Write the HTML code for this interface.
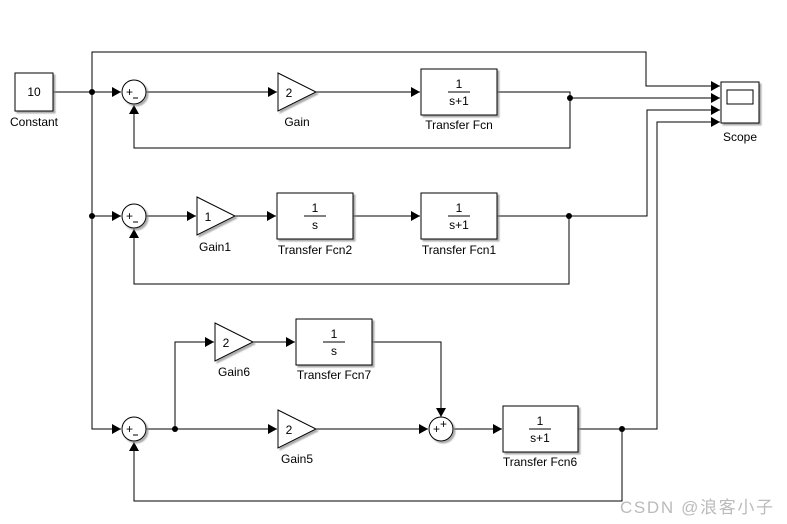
<!DOCTYPE html>
<html><head><style>body{margin:0;background:#fff}svg{display:block}text{font-family:"Liberation Sans",sans-serif;font-size:12px;fill:#000}</style></head><body>
<svg width="787" height="524" viewBox="0 0 787 524">
<defs>
<marker id="a" markerWidth="10" markerHeight="10" refX="9" refY="5" orient="auto" markerUnits="userSpaceOnUse"><path d="M0,0 L9,5 L0,10 Z" fill="#000"/></marker>
<filter id="s" x="-20%" y="-20%" width="150%" height="150%"><feDropShadow dx="2" dy="2" stdDeviation="0.8" flood-color="#888" flood-opacity="0.7"/></filter>
</defs>
<g fill="none" stroke="#000" stroke-width="1">
<path d="M53,92 H121" marker-end="url(#a)"/>
<path d="M92,92 V52 H646 V86 H720" marker-end="url(#a)"/>
<path d="M146,92 H277" marker-end="url(#a)"/>
<path d="M316,92 H420" marker-end="url(#a)"/>
<path d="M497,92 H570 V98 H720" marker-end="url(#a)"/>
<path d="M570,98 V148 H134 V105" marker-end="url(#a)"/>
<path d="M92,92 V429 H121" marker-end="url(#a)"/>
<path d="M92,216 H121" marker-end="url(#a)"/>
<path d="M146,216 H196" marker-end="url(#a)"/>
<path d="M235,216 H276" marker-end="url(#a)"/>
<path d="M353,216 H420" marker-end="url(#a)"/>
<path d="M497,216 H647 V110 H720" marker-end="url(#a)"/>
<path d="M569,216 V284 H134 V229" marker-end="url(#a)"/>
<path d="M146,429 H277" marker-end="url(#a)"/>
<path d="M175,429 V342 H214" marker-end="url(#a)"/>
<path d="M253,342 H295" marker-end="url(#a)"/>
<path d="M372,342 H441 V417" marker-end="url(#a)"/>
<path d="M316,429 H428" marker-end="url(#a)"/>
<path d="M454,429 H502" marker-end="url(#a)"/>
<path d="M578,429 H657 V122 H720" marker-end="url(#a)"/>
<path d="M622,429 V501 H134 V442" marker-end="url(#a)"/>
</g>
<g fill="#000"><circle cx="92" cy="92" r="3"/><circle cx="570" cy="98" r="3"/><circle cx="92" cy="216" r="3"/><circle cx="569" cy="216" r="3"/><circle cx="175" cy="429" r="3"/><circle cx="622" cy="429" r="3"/></g>
<g fill="#fff" stroke="#000" filter="url(#s)">
<rect x="15" y="73" width="38" height="38"/>
<circle cx="134" cy="92" r="12"/><circle cx="134" cy="216" r="12"/><circle cx="134" cy="429" r="12"/><circle cx="441" cy="429" r="12"/>
<path d="M278,73 L316,92 L278,111 Z"/>
<path d="M197,197 L235,216 L197,235 Z"/>
<path d="M215,323 L253,342 L215,361 Z"/>
<path d="M278,410 L316,429 L278,448 Z"/>
<rect x="421" y="69" width="76" height="46"/>
<rect x="277" y="193" width="76" height="46"/>
<rect x="421" y="193" width="76" height="46"/>
<rect x="296" y="319" width="76" height="46"/>
<rect x="503" y="406" width="75" height="46"/>
<rect x="721" y="82" width="38" height="41"/>
</g>
<rect x="727" y="90" width="26" height="14" fill="#fff" stroke="#000"/>
<g stroke="#000"><line x1="448" y1="92" x2="470" y2="92"/><line x1="304" y1="216" x2="326" y2="216"/><line x1="448" y1="216" x2="470" y2="216"/><line x1="323" y1="342" x2="345" y2="342"/><line x1="529" y1="429" x2="551" y2="429"/>
<line x1="133" y1="98" x2="138" y2="98"/><line x1="133" y1="222" x2="138" y2="222"/><line x1="133" y1="435" x2="138" y2="435"/></g>
<g text-anchor="middle">
<text x="34" y="96">10</text><text x="34" y="126">Constant</text>
<text x="289" y="97">2</text><text x="297" y="126">Gain</text>
<text x="208" y="221">1</text><text x="215" y="251">Gain1</text>
<text x="226" y="347">2</text><text x="234" y="376">Gain6</text>
<text x="289" y="434">2</text><text x="297" y="463">Gain5</text>
<text x="459" y="88">1</text><text x="459" y="105">s+1</text><text x="459" y="129">Transfer Fcn</text>
<text x="315" y="212">1</text><text x="315" y="229">s</text><text x="315" y="254">Transfer Fcn2</text>
<text x="459" y="212">1</text><text x="459" y="229">s+1</text><text x="459" y="254">Transfer Fcn1</text>
<text x="334" y="338">1</text><text x="334" y="355">s</text><text x="334" y="379">Transfer Fcn7</text>
<text x="540" y="425">1</text><text x="540" y="442">s+1</text><text x="540" y="466">Transfer Fcn6</text>
<text x="740" y="141">Scope</text>
</g>
<g style="font-size:9px">
<text x="126" y="96">+</text>
<text x="126" y="220">+</text>
<text x="126" y="433">+</text>
<text x="433" y="433">+</text><text x="440" y="428">+</text>
</g>
<text x="620" y="513" textLength="153" style="font-size:17px;fill:#bbb;font-family:'Liberation Sans','Noto Sans CJK SC',sans-serif">CSDN @浪客小子</text>
</svg>
</body></html>
